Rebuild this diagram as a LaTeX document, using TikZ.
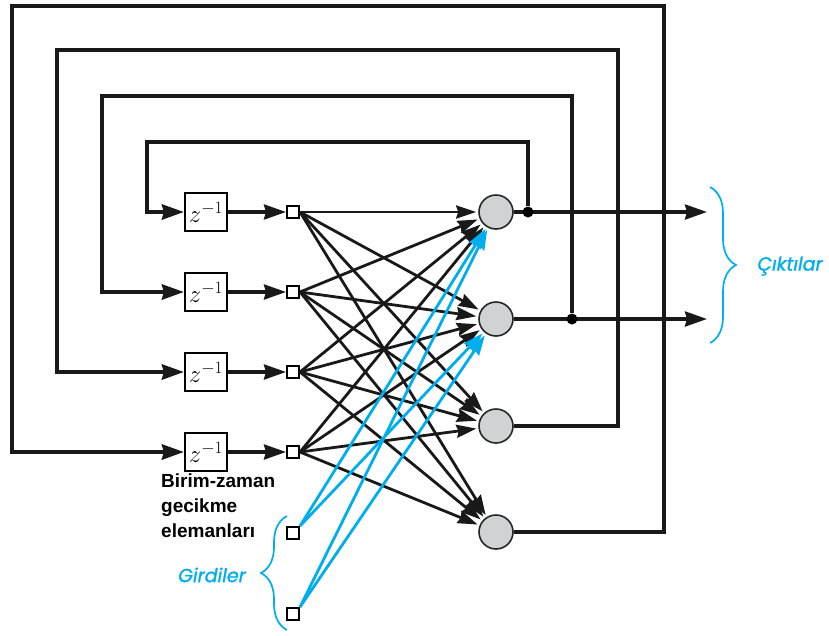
\documentclass[tikz,border=0pt]{standalone}
\usepackage{fontspec}
\setsansfont{Liberation Sans}
\newfontfamily\notfont[FakeBold=1.2]{Poppins}
\usetikzlibrary{arrows.meta,decorations.pathreplacing,calc}
\definecolor{girdimavi}{RGB}{0,174,239}
\definecolor{noronrenk}{RGB}{208,210,211}

\begin{document}
\begin{tikzpicture}[x=1pt, y=-1pt,
  gecikme/.style={draw, line width=2pt, fill=white, minimum width=42pt, minimum height=38pt, inner sep=0pt, font=\fontsize{23}{25}\selectfont},
  kutu/.style={draw, line width=2pt, fill=white, minimum size=12pt, inner sep=0pt},
  noron/.style={circle, draw=black!85, line width=1.6pt, fill=noronrenk, minimum size=34pt, inner sep=0pt},
  nokta/.style={circle, fill=black, minimum size=11pt, inner sep=0pt},
  geri/.style={line width=4.4pt, black!90, -{Stealth[length=22pt,width=15pt,inset=2pt]}},
  ileri/.style={line width=3.3pt, black!90, -{Stealth[length=22pt,width=15pt,inset=2pt]}},
  bag/.style={line width=2.8pt, black!90, -{Stealth[length=20pt,width=13pt,inset=2pt]}, shorten >=2pt},
  girdi/.style={bag, girdimavi},
  parantez/.style={girdimavi, line width=1.7pt, decorate, decoration={brace, amplitude=26pt}},
  not/.style={girdimavi, font=\notfont\itshape\fontsize{19}{21}\selectfont}
]
\useasboundingbox (0,0) rectangle (829,635);
% column 1: unit delays and their output taps
\foreach \i/\y in {1/212, 2/292, 3/372, 4/452} {
  \node[gecikme] (d\i) at (206,\y) {$z^{-1}$};
  \node[kutu] (s\i) at (293,\y) {};
}
% inputs
\node[kutu] (i1) at (293,533) {};
\node[kutu] (i2) at (293,614) {};
% column 2: neurons
\node[noron] (n1) at (496,212) {};
\node[noron] (n2) at (496,319) {};
\node[noron] (n3) at (496,426) {};
\node[noron] (n4) at (496,532) {};
% outputs and taps
\coordinate (c1) at (707,212);
\coordinate (c2) at (707,319);
\draw[ileri] (n1.east) -- (c1);
\draw[ileri] (n2.east) -- (c2);
\node[nokta] (j1) at (528,212) {};
\node[nokta] (j2) at (572,319) {};
% feedback loops
\draw[geri] (j1) |- (147,142) |- (d1.west);
\draw[geri] (j2) |- (102,96) |- (d2.west);
\draw[geri] (n3.east) -| (618,50) -| (57,372) -- (d3.west);
\draw[geri] (n4.east) -| (664,6) -| (12,452) -- (d4.west);
\foreach \i in {1,...,4} \draw[ileri] (d\i.east) -- (s\i.west);
% full connections
\foreach \i in {1,...,4}
  \foreach \j in {1,...,4}
    \draw[bag] (s\i.east) -- (n\j);
\foreach \i in {1,2}
  \foreach \j in {1,2}
    \draw[girdi] (i\i.north east) -- (n\j);
% labels
\node[font=\sffamily\bfseries\fontsize{19}{25}\selectfont, align=left, anchor=north west, inner sep=0pt] (etiket) at (161,474) {Birim-zaman\\gecikme\\elemanları};
\draw[parantez] (287,630) -- (287,516);
\node[not] (girdiler) at (212,575) {Girdiler};
\draw[parantez] (710,187) -- (710,343);
\node[not] (ciktilar) at (790,266) {Çıktılar};
\end{tikzpicture}
\end{document}
